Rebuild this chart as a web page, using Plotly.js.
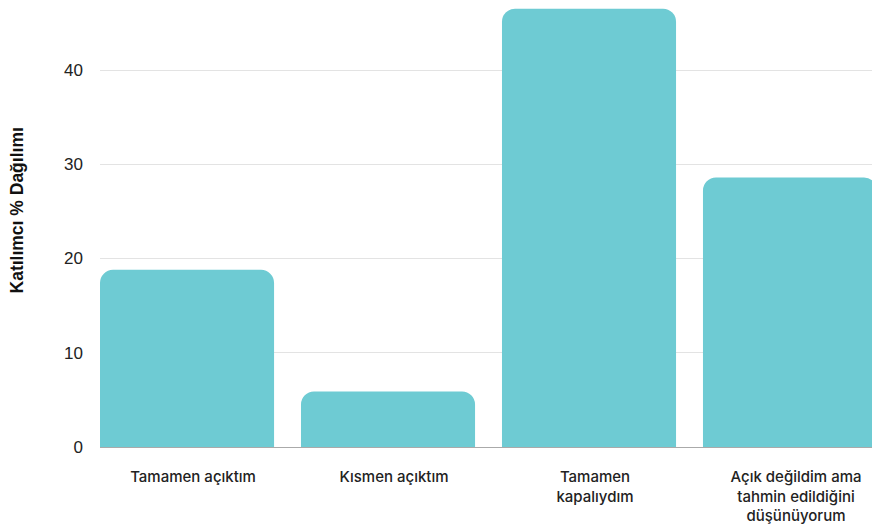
<!DOCTYPE html>
<html>
<head>
<meta charset="utf-8">
<script src="https://cdn.plot.ly/plotly-3.0.1.min.js"></script>
<style>html,body{margin:0;padding:0;background:#fff;}#chart{width:872px;height:524px;}</style>
</head>
<body>
<div id="chart"></div>
<script>
const categories = ["Tamamen açıktım", "Kısmen açıktım", "Tamamen<br>kapalıydım", "Açık değildim ama<br>tahmin edildiğini<br>düşünüyorum"];
const values = [18.8, 5.9, 46.5, 28.6];
const yTicks = [0, 10, 20, 30, 40];
const yTitle = "Katılımcı % Dağılımı";

const data = [{
  type: "bar",
  x: categories,
  y: values,
  marker: {color: "#6ECBD3", cornerradius: 13},
  hoverinfo: "none"
}];

const layout = {
  width: 872, height: 524,
  margin: {l: 100, r: 0, t: 0, b: 77},
  paper_bgcolor: "#ffffff",
  plot_bgcolor: "#ffffff",
  bargap: 0.134,
  showlegend: false,
  xaxis: {
    range: [-0.433, 3.408],
    showgrid: false,
    zeroline: false,
    showline: false,
    ticks: "",
    ticklabelstandoff: 19,
    ticklabelshift: 6,
    tickfont: {family: "Inter, 'Open Sans', sans-serif", size: 15, weight: 500, color: "#222"}
  },
  yaxis: {
    range: [0, 47.43],
    tickvals: yTicks,
    ticktext: yTicks.map(String),
    showgrid: true,
    gridcolor: "#e3e3e3",
    gridwidth: 1,
    zeroline: true,
    zerolinecolor: "#aaaaaa",
    zerolinewidth: 1,
    showline: false,
    ticks: "",
    ticklabelstandoff: 16,
    tickfont: {family: "'Liberation Sans', Arial, sans-serif", size: 17, color: "#222"}
  },
  annotations: [{
    text: "<b>" + yTitle + "</b>",
    xref: "paper", yref: "paper",
    x: -0.107, y: 0.53,
    xanchor: "center", yanchor: "middle",
    textangle: -90,
    showarrow: false,
    font: {family: "'Liberation Sans', Arial, sans-serif", size: 17.5, color: "#111"}
  }]
};

Plotly.newPlot("chart", data, layout, {displayModeBar: false, staticPlot: true});
</script>
</body>
</html>
